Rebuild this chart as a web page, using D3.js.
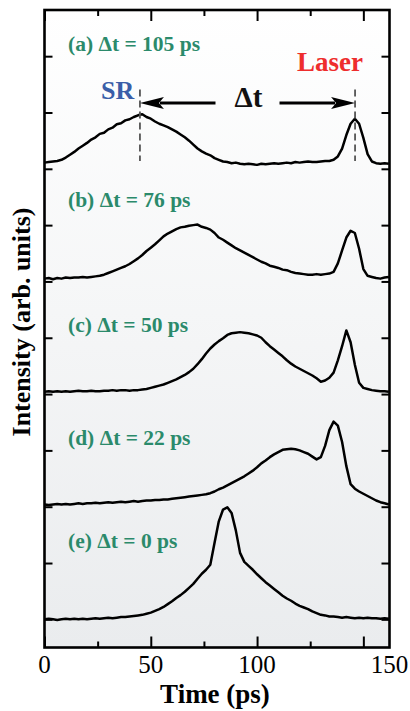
<!DOCTYPE html>
<html><head><meta charset="utf-8">
<script src="https://cdn.jsdelivr.net/npm/d3@7"></script>
<style>html,body{margin:0;padding:0;background:#fff;} svg{display:block}</style>
</head><body><svg id="c" width="410" height="711"></svg>
<script>
// ---------- data ----------
const timePs = [0,2,4,6,8,10,12,14,16,18,20,22,24,26,28,30,32,34,36,38,40,42,44,46,48,50,52,54,56,58,60,62,64,66,68,70,72,74,76,78,80,82,84,86,88,90,92,94,96,98,100,102,104,106,108,110,112,114,116,118,120,122,124,126,128,130,132,134,136,138,140,142,144,146,148,150,152,154,156,158,160,162];

const seriesA = [0.11,0.12,0.13,0.14,0.16,0.20,0.25,0.30,0.36,0.41,0.46,0.52,0.56,0.62,0.64,0.70,0.73,0.79,0.81,0.86,0.88,0.92,0.95,0.97,0.92,0.89,0.84,0.80,0.77,0.74,0.70,0.66,0.61,0.56,0.50,0.43,0.36,0.31,0.27,0.24,0.19,0.16,0.13,0.12,0.10,0.11,0.09,0.08,0.09,0.08,0.07,0.09,0.08,0.09,0.10,0.09,0.10,0.11,0.10,0.12,0.11,0.12,0.13,0.12,0.12,0.13,0.14,0.14,0.16,0.22,0.36,0.60,0.80,0.89,0.80,0.55,0.26,0.13,0.10,0.09,0.10,0.09];
const seriesB = [0.05,0.06,0.04,0.06,0.05,0.07,0.06,0.07,0.07,0.08,0.07,0.08,0.09,0.10,0.12,0.15,0.18,0.21,0.24,0.27,0.31,0.36,0.41,0.47,0.54,0.60,0.66,0.73,0.80,0.85,0.89,0.93,0.96,0.97,0.99,1.00,1.01,0.97,0.95,0.92,0.86,0.78,0.74,0.69,0.64,0.59,0.55,0.51,0.47,0.43,0.39,0.35,0.32,0.28,0.26,0.24,0.21,0.20,0.17,0.15,0.14,0.13,0.12,0.12,0.13,0.12,0.13,0.14,0.17,0.32,0.55,0.78,0.90,0.86,0.58,0.22,0.10,0.08,0.06,0.05,0.07,0.08];
const seriesC = [0.04,0.05,0.04,0.05,0.04,0.05,0.04,0.05,0.06,0.05,0.05,0.06,0.05,0.05,0.06,0.06,0.07,0.06,0.07,0.07,0.06,0.07,0.07,0.08,0.09,0.11,0.13,0.15,0.17,0.20,0.23,0.26,0.30,0.34,0.39,0.45,0.53,0.62,0.72,0.81,0.88,0.94,0.99,1.05,1.08,1.09,1.10,1.09,1.08,1.06,1.04,1.00,0.92,0.85,0.79,0.73,0.67,0.60,0.54,0.49,0.45,0.41,0.37,0.33,0.28,0.22,0.24,0.29,0.38,0.60,0.85,1.13,0.92,0.52,0.20,0.11,0.09,0.07,0.06,0.05,0.05,0.04];
const seriesD = [0.04,0.03,0.04,0.05,0.04,0.05,0.04,0.05,0.06,0.05,0.06,0.06,0.07,0.06,0.07,0.08,0.07,0.08,0.09,0.08,0.09,0.10,0.09,0.10,0.11,0.11,0.12,0.12,0.13,0.13,0.14,0.15,0.16,0.17,0.18,0.19,0.20,0.21,0.22,0.24,0.27,0.31,0.34,0.38,0.42,0.46,0.50,0.54,0.59,0.64,0.70,0.77,0.82,0.88,0.93,0.97,1.01,1.02,1.03,1.02,1.00,0.97,0.94,0.89,0.84,0.88,1.08,1.36,1.51,1.44,1.15,0.72,0.40,0.32,0.27,0.23,0.19,0.15,0.11,0.08,0.06,0.04];
const seriesE = [0.00,0.01,0.00,-0.01,0.00,0.01,0.00,0.01,0.00,0.01,0.00,0.01,0.02,0.01,0.02,0.03,0.02,0.03,0.04,0.04,0.05,0.06,0.07,0.08,0.10,0.12,0.15,0.18,0.22,0.27,0.32,0.38,0.43,0.49,0.56,0.63,0.72,0.81,0.88,0.97,1.36,1.74,1.95,1.99,1.89,1.58,1.18,1.02,0.95,0.88,0.80,0.73,0.66,0.60,0.54,0.48,0.42,0.37,0.33,0.28,0.24,0.21,0.18,0.14,0.11,0.08,0.07,0.05,0.05,0.04,0.03,0.04,0.03,0.02,0.03,0.02,0.03,0.02,0.02,0.01,0.02,0.01];

const panelNames = ["(a) \u0394t = 105 ps", "(b) \u0394t = 76 ps", "(c) \u0394t = 50 ps", "(d) \u0394t = 22 ps", "(e) \u0394t = 0 ps"];
const panelOffsets = [8, 6, 4, 2, 0];
const xMajorTicks = [0, 50, 100, 150];
const xMinorTicks = [25, 75, 125];
const xTickLabels = ["0", "50", "100", "150"];
const yTicks = [0,1,2,3,4,5,6,7,8,9,10];
const srTime = 44.9, laserTime = 146.1;   // peak positions in panel (a)

// ---------- layout ----------
const svg = d3.select("#c");
const L = 44.5, R = 389.5, T = 10, B = 647.5;
const x = d3.scaleLinear().domain([0, 162.3]).range([L, R]);
const y = d3.scaleLinear().domain([-0.5, 10.82]).range([B, T]);
const labelY = [10.09, 7.32, 5.10, 3.10, 1.27];
const serif = "'Liberation Serif','Times New Roman',serif";

const defs = svg.append("defs");
const g = defs.append("linearGradient").attr("id","bg").attr("x1",0).attr("y1",0).attr("x2",0).attr("y2",1);
g.append("stop").attr("offset","0%").attr("stop-color","#ffffff");
g.append("stop").attr("offset","100%").attr("stop-color","#eaecee");
defs.append("clipPath").attr("id","clip").append("rect")
  .attr("x",L).attr("y",T).attr("width",R-L).attr("height",B-T);

svg.append("rect").attr("x",L).attr("y",T).attr("width",R-L).attr("height",B-T).attr("fill","url(#bg)");

// curves
const series = [seriesA, seriesB, seriesC, seriesD, seriesE];
const curves = svg.append("g").attr("clip-path","url(#clip)");
series.forEach((s, i) => {
  const line = d3.line().x((d, j) => x(timePs[j])).y(d => y(d + panelOffsets[i]));
  curves.append("path").datum(s).attr("d", line)
    .attr("fill","none").attr("stroke","#000").attr("stroke-width",2.5)
    .attr("stroke-linejoin","round");
});

// axes (inward ticks)
function styleAxis(sel){ sel.select(".domain").remove(); sel.selectAll("line").attr("stroke","#000").attr("stroke-width",2); }
svg.append("g").attr("transform",`translate(0,${B})`).call(d3.axisBottom(x).tickValues(xMajorTicks).tickSize(-11).tickFormat("")).call(styleAxis);
svg.append("g").attr("transform",`translate(0,${B})`).call(d3.axisBottom(x).tickValues(xMinorTicks).tickSize(-6).tickFormat("")).call(styleAxis);
svg.append("g").attr("transform",`translate(0,${T})`).call(d3.axisTop(x).tickValues(xMajorTicks).tickSize(-11).tickFormat("")).call(styleAxis);
svg.append("g").attr("transform",`translate(0,${T})`).call(d3.axisTop(x).tickValues(xMinorTicks).tickSize(-6).tickFormat("")).call(styleAxis);
svg.append("g").attr("transform",`translate(${L},0)`).call(d3.axisLeft(y).tickValues(yTicks).tickSize(-8).tickFormat("")).call(styleAxis);
svg.append("g").attr("transform",`translate(${R},0)`).call(d3.axisRight(y).tickValues(yTicks).tickSize(-8).tickFormat("")).call(styleAxis);

svg.append("rect").attr("x",L).attr("y",T).attr("width",R-L).attr("height",B-T)
  .attr("fill","none").attr("stroke","#000").attr("stroke-width",2.6);

// x tick labels (the source figure writes "150" at the frame's right edge)
xTickLabels.forEach((t, i) => {
  const px = i === xTickLabels.length - 1 ? R : x(xMajorTicks[i]);
  svg.append("text").attr("x", px).attr("y", 673).attr("text-anchor","middle")
    .attr("font-family", serif).attr("font-size", 25).attr("fill","#000").text(t);
});

// axis titles
svg.append("text").attr("x", 215).attr("y", 703).attr("text-anchor","middle")
  .attr("font-family", serif).attr("font-weight","bold").attr("font-size", 27).text("Time (ps)");
svg.append("text").attr("transform","translate(30,322) rotate(-90)").attr("text-anchor","middle")
  .attr("font-family", serif).attr("font-weight","bold").attr("font-size", 26).text("Intensity (arb. units)");

// panel labels
panelNames.forEach((t, i) => {
  svg.append("text").attr("x", 68).attr("y", y(labelY[i]))
    .attr("font-family", serif).attr("font-weight","bold").attr("font-size", 21.5)
    .attr("fill","#2b8a6b").text(t);
});

// annotation in panel (a)
const ann = svg.append("g");
[srTime, laserTime].forEach(t => {
  ann.append("line").attr("x1", x(t)).attr("x2", x(t)).attr("y1", y(9.41)).attr("y2", y(8.14))
    .attr("stroke","#555").attr("stroke-width",1.8).attr("stroke-dasharray","7,4");
});
const ay = y(9.17);
const xs = x(srTime), xl = x(laserTime), xm = (xs + xl) / 2;
ann.append("line").attr("x1", xs + 20).attr("x2", xm - 32).attr("y1", ay).attr("y2", ay).attr("stroke","#000").attr("stroke-width",3);
ann.append("line").attr("x1", xm + 32).attr("x2", xl - 20).attr("y1", ay).attr("y2", ay).attr("stroke","#000").attr("stroke-width",3);
ann.append("path").attr("d", `M${xs},${ay} L${xs+24},${ay-6} L${xs+19},${ay} L${xs+24},${ay+6} Z`).attr("fill","#000");
ann.append("path").attr("d", `M${xl},${ay} L${xl-24},${ay-6} L${xl-19},${ay} L${xl-24},${ay+6} Z`).attr("fill","#000");
ann.append("text").attr("x", xm + 1).attr("y", 106.7).attr("text-anchor","middle")
  .attr("font-family", serif).attr("font-weight","bold").attr("font-size", 29).attr("fill","#111").text("\u0394t");
ann.append("text").attr("x", 101).attr("y", 99.3)
  .attr("font-family", serif).attr("font-weight","bold").attr("font-size", 26).attr("fill","#3a5ea8").text("SR");
ann.append("text").attr("x", 297).attr("y", 70.7)
  .attr("font-family", serif).attr("font-weight","bold").attr("font-size", 27).attr("fill","#ee2d2d").text("Laser");
</script></body></html>
